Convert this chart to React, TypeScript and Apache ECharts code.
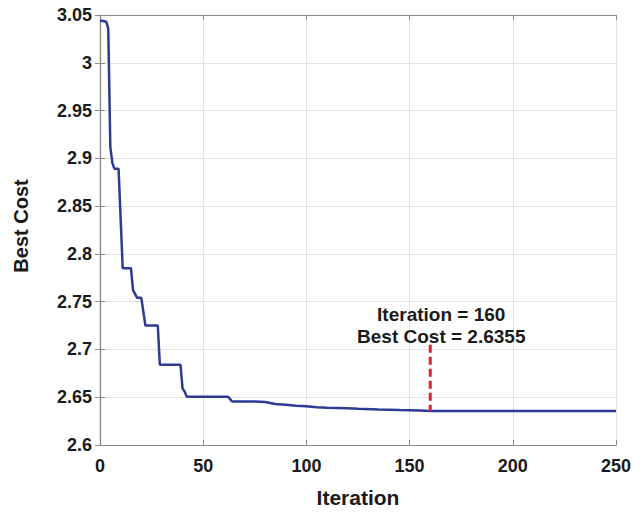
import React, { useEffect, useRef } from "react";
import * as echarts from "echarts";

const iterations = [0, 1, 3, 4, 5, 6, 7, 9, 11, 15, 16, 18, 20, 22, 28, 29, 39, 40, 41, 42, 62, 64, 75, 80, 85, 90, 95, 100, 105, 110, 120, 125, 135, 145, 155, 160, 250];
const bestCost = [3.044, 3.044, 3.043, 3.036, 2.912, 2.895, 2.889, 2.889, 2.785, 2.785, 2.762, 2.754, 2.754, 2.725, 2.725, 2.684, 2.684, 2.659, 2.656, 2.6506, 2.6506, 2.6455, 2.6455, 2.645, 2.643, 2.642, 2.641, 2.6405, 2.6395, 2.639, 2.6385, 2.638, 2.6372, 2.6365, 2.636, 2.6355, 2.6355];

const markIteration = 160;
const markCost = 2.6355;
const markTop = 2.705;

const xTicks = { min: 0, max: 250, interval: 50 };
const yTicks = { min: 2.6, max: 3.05, interval: 0.05 };

const FONT = '"Liberation Sans", Arial, sans-serif';

export default function App() {
  const ref = useRef<HTMLDivElement>(null);
  useEffect(() => {
    document.body.style.margin = "0";
    const chart = echarts.init(ref.current!, null, { renderer: "svg" });
    const seriesData = iterations.map((it, i) => [it, bestCost[i]]);
    const axisCommon = {
      axisLine: { show: true, lineStyle: { color: "#8a8a8a", width: 1.2 } },
      axisTick: { show: true, inside: true, length: 5, lineStyle: { color: "#8a8a8a" } },
    };
    chart.setOption({
      animation: false,
      backgroundColor: "#ffffff",
      grid: { left: 100, right: 27, top: 15, bottom: 62, show: false },
      xAxis: [
        {
          type: "value",
          min: xTicks.min,
          max: xTicks.max,
          interval: xTicks.interval,
          ...axisCommon,
          splitLine: { show: true, lineStyle: { color: "#e3e3e3", width: 1 } },
          axisLabel: { margin: 12, fontSize: 18, fontWeight: "bold", color: "#1a1a1a", fontFamily: FONT },
          name: "Iteration",
          nameLocation: "middle",
          nameGap: 42,
          nameTextStyle: { fontSize: 21, fontWeight: "bold", color: "#1a1a1a", fontFamily: FONT },
        },
        {
          type: "value",
          position: "top",
          min: xTicks.min,
          max: xTicks.max,
          interval: xTicks.interval,
          ...axisCommon,
          splitLine: { show: false },
          axisLabel: { show: false },
        },
      ],
      yAxis: [
        {
          type: "value",
          min: yTicks.min,
          max: yTicks.max,
          interval: yTicks.interval,
          ...axisCommon,
          splitLine: { show: true, lineStyle: { color: "#e3e3e3", width: 1 } },
          axisLabel: {
            margin: 8,
            fontSize: 18,
            fontWeight: "bold",
            color: "#1a1a1a",
            fontFamily: FONT,
            formatter: (v: number) => String(Math.round(v * 100) / 100),
          },
        },
        {
          type: "value",
          position: "right",
          min: yTicks.min,
          max: yTicks.max,
          interval: yTicks.interval,
          ...axisCommon,
          splitLine: { show: false },
          axisLabel: { show: false },
        },
      ],
      graphic: [
        {
          type: "text",
          x: 21,
          y: 226,
          rotation: Math.PI / 2,
          style: {
            text: "Best Cost",
            fontSize: 20,
            fontWeight: "bold",
            fill: "#1a1a1a",
            fontFamily: FONT,
            align: "center",
            verticalAlign: "middle",
          },
        },
      ],
      series: [
        {
          type: "line",
          data: seriesData,
          showSymbol: false,
          symbol: "none",
          lineStyle: { color: "#2e3a94", width: 2.5 },
          z: 3,
        },
        {
          type: "line",
          data: [
            {
              value: [markIteration, markTop],
              label: {
                show: true,
                position: "top",
                distance: 0,
                offset: [11, 3],
                formatter: `Iteration = ${markIteration}\nBest Cost = ${markCost}`,
                fontSize: 19,
                fontWeight: "bold",
                color: "#1a1a1a",
                fontFamily: FONT,
                lineHeight: 22,
                align: "center",
              },
            },
            { value: [markIteration, markCost] },
          ],
          showSymbol: true,
          symbol: "circle",
          symbolSize: 0.01,
          itemStyle: { color: "rgba(0,0,0,0)" },
          lineStyle: { color: "#e3202e", width: 3, type: [8, 4] },
          z: 4,
        },
      ],
    });
    return () => chart.dispose();
  }, []);
  return <div ref={ref} style={{ width: 643, height: 513 }} />;
}
